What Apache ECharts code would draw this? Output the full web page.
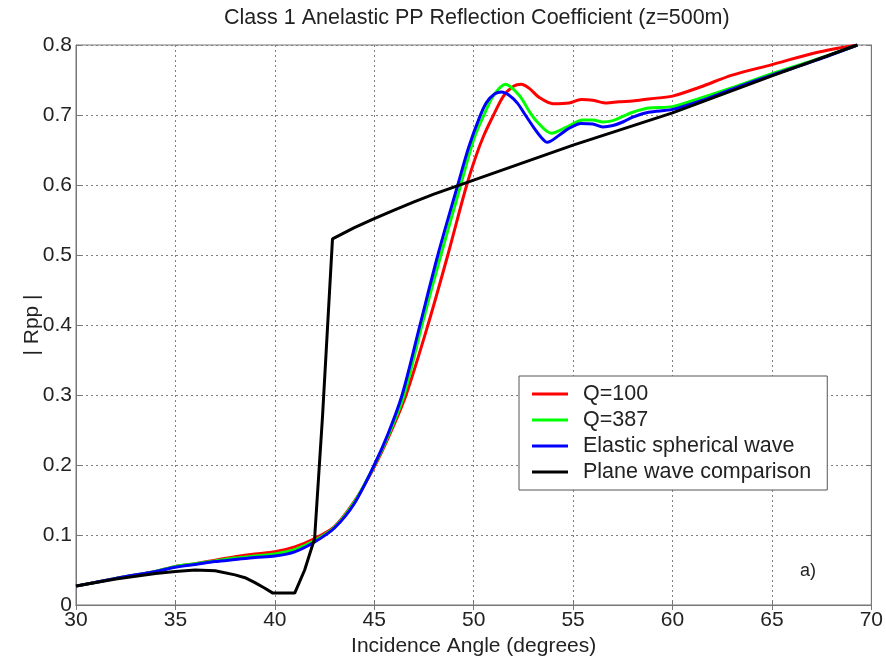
<!DOCTYPE html>
<html>
<head>
<meta charset="utf-8">
<script src="https://cdn.jsdelivr.net/npm/echarts@6/dist/echarts.min.js"></script>
<style>
  html, body { margin: 0; padding: 0; background: #fff; }
  #chart { width: 886px; height: 662px; }
</style>
</head>
<body>
<div id="chart"></div>
<script>
// Q=100
var angleQ100 = [30, 32, 34, 35, 36, 37, 38, 39, 40, 41, 42, 43, 44, 45, 45.8, 46.6, 47.7, 48.7, 49.6, 50.1, 50.5, 51, 51.5, 52, 52.4, 52.8, 53.3, 54, 54.8, 55.4, 56, 56.7, 57.3, 58, 58.8, 60, 61.4, 63, 65, 67.2, 69.3]
var rppQ100 = [0.027, 0.038, 0.048, 0.055, 0.059, 0.064, 0.069, 0.073, 0.076, 0.083, 0.095, 0.112, 0.148, 0.197, 0.245, 0.3, 0.4, 0.5, 0.595, 0.64, 0.67, 0.7, 0.727, 0.741, 0.744, 0.738, 0.725, 0.716, 0.717, 0.722, 0.721, 0.717, 0.719, 0.72, 0.723, 0.727, 0.74, 0.757, 0.772, 0.789, 0.8]
// Q=387
var angleQ387 = [30, 32, 34, 35, 36, 37, 38, 39, 40, 41, 42, 43, 44, 45, 45.75, 46.5, 47.4, 48.35, 49.35, 50, 50.55, 51, 51.6, 52.3, 52.8, 53.2, 53.9, 54.7, 55.5, 56, 56.5, 57, 57.5, 58, 58.8, 60, 61.4, 63, 65, 67.2, 69.3]
var rppQ387 = [0.027, 0.038, 0.048, 0.055, 0.059, 0.063, 0.067, 0.07, 0.073, 0.079, 0.092, 0.111, 0.147, 0.199, 0.245, 0.3, 0.4, 0.5, 0.6, 0.665, 0.702, 0.728, 0.744, 0.728, 0.705, 0.69, 0.674, 0.683, 0.693, 0.693, 0.69, 0.692, 0.698, 0.704, 0.71, 0.712, 0.724, 0.739, 0.759, 0.779, 0.8]
// elastic spherical wave
var angleElastic = [30, 32, 34, 35, 36, 37, 38, 39, 40, 41, 42, 43, 44, 45, 45.7, 46.4, 47.3, 48.2, 49.2, 49.75, 50.3, 50.65, 51.05, 51.4, 51.8, 52.2, 52.6, 53, 53.4, 53.7, 54.3, 54.8, 55.4, 56, 56.5, 57, 57.5, 58, 58.8, 60, 61.4, 63, 65, 67.2, 69.3]
var rppElastic = [0.027, 0.038, 0.048, 0.054, 0.058, 0.062, 0.065, 0.068, 0.07, 0.076, 0.09, 0.11, 0.145, 0.2, 0.245, 0.3, 0.4, 0.5, 0.6, 0.654, 0.697, 0.718, 0.73, 0.733, 0.728, 0.717, 0.7, 0.683, 0.668, 0.661, 0.671, 0.681, 0.688, 0.687, 0.683, 0.685, 0.69, 0.697, 0.704, 0.708, 0.72, 0.737, 0.757, 0.778, 0.8]
// plane wave
var anglePlane = [30, 31, 32, 33, 34, 35, 36, 37, 38, 38.5, 39, 39.5, 39.9, 41, 41.5, 42, 42.4, 42.9, 44, 45, 46, 47, 48, 50, 55, 60, 65, 69.3]
var rppPlane = [0.027, 0.032, 0.037, 0.041, 0.045, 0.048, 0.05, 0.049, 0.043, 0.039, 0.032, 0.024, 0.017, 0.017, 0.05, 0.095, 0.27, 0.523, 0.539, 0.552, 0.564, 0.576, 0.587, 0.607, 0.657, 0.703, 0.756, 0.8]

var seriesNames = ['Q=100', 'Q=387', 'Elastic spherical wave', 'Plane wave comparison']
var seriesColors = ['#ff0000', '#00ff00', '#0000ff', '#000000']

function pairs(xs, ys) {
  return xs.map(function (x, i) { return [x, ys[i]] })
}

var chart = echarts.init(document.getElementById('chart'))
var font = 'Liberation Sans, Arial, sans-serif'
var gridLine = { show: true, lineStyle: { color: '#808080', type: [2, 3], width: 1 } }

var option = {
  animation: false,
  textStyle: { fontFamily: font },
  grid: { left: 76, right: 14, top: 45, bottom: 57, show: true, borderColor: '#777', borderWidth: 1, backgroundColor: '#fff' },
  graphic: [
    { type: 'text', left: 479 - 255, top: 7, style: { text: 'Class 1 Anelastic PP Reflection Coefficient (z=500m)', font: '21.5px ' + font, fill: '#222', width: 510, align: 'center' } },
    { type: 'text', x: 800, y: 562, style: { text: 'a)', font: '18px ' + font, fill: '#222' } }
  ],
  legend: {
    data: seriesNames,
    orient: 'vertical',
    left: 519,
    top: 376,
    icon: 'rect',
    itemWidth: 36,
    itemHeight: 3,
    itemGap: 4,
    padding: [7, 16, 7, 13],
    backgroundColor: '#fff',
    borderColor: '#555',
    borderWidth: 1,
    textStyle: { fontSize: 21.5, color: '#222', fontFamily: font, padding: [0, 0, 0, 10] }
  },
  xAxis: [{
    type: 'value', min: 30, max: 70, interval: 5,
    name: 'Incidence Angle (degrees)', nameLocation: 'middle', nameGap: 30,
    nameTextStyle: { fontSize: 21, color: '#222' },
    axisLine: { lineStyle: { color: '#777' } },
    axisTick: { inside: true, length: 5, lineStyle: { color: '#777' } },
    axisLabel: { fontSize: 21, color: '#222', margin: 5 },
    splitLine: gridLine
  }, {
    type: 'value', min: 30, max: 70, interval: 5, position: 'top',
    axisLine: { lineStyle: { color: '#777' } },
    axisTick: { inside: true, length: 5, lineStyle: { color: '#777' } },
    axisLabel: { show: false }, splitLine: { show: false }
  }],
  yAxis: [{
    type: 'value', min: 0, max: 0.8, interval: 0.1,
    name: '| Rpp |', nameLocation: 'middle', nameGap: 33, nameRotate: 90, nameMoveOverlap: false,
    nameTextStyle: { fontSize: 21, color: '#222' },
    axisLine: { show: true, lineStyle: { color: '#777' } },
    axisTick: { show: true, inside: true, length: 5, lineStyle: { color: '#777' } },
    axisLabel: { fontSize: 21, color: '#222', margin: 4 },
    splitLine: gridLine
  }, {
    type: 'value', min: 0, max: 0.8, interval: 0.1, position: 'right',
    axisLine: { show: true, lineStyle: { color: '#777' } },
    axisTick: { show: true, inside: true, length: 5, lineStyle: { color: '#777' } },
    axisLabel: { show: false }, splitLine: { show: false }
  }],
  series: [
    { name: seriesNames[0], data: pairs(angleQ100, rppQ100) },
    { name: seriesNames[1], data: pairs(angleQ387, rppQ387) },
    { name: seriesNames[2], data: pairs(angleElastic, rppElastic) },
    { name: seriesNames[3], data: pairs(anglePlane, rppPlane), smooth: false }
  ].map(function (s, i) {
    return Object.assign({
      type: 'line',
      smooth: 0.3,
      showSymbol: false,
      color: seriesColors[i],
      lineStyle: { width: 3, color: seriesColors[i] }
    }, s)
  })
}

chart.setOption(option)
</script>
</body>
</html>
